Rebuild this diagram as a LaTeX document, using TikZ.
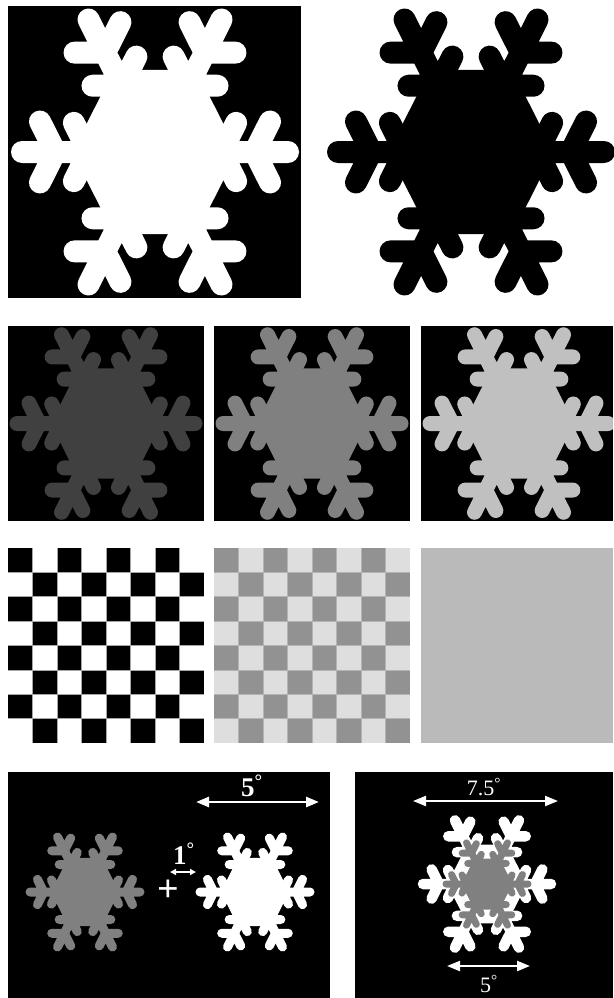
\documentclass[tikz,border=0pt]{standalone}
\usepackage{fontspec}
\setmainfont{Liberation Serif}
\usetikzlibrary{arrows.meta}
\definecolor{flakedark}{HTML}{404040}
\definecolor{flakemid}{HTML}{808080}
\definecolor{flakelight}{HTML}{C0C0C0}
\definecolor{chkdark}{HTML}{929292}
\definecolor{chklight}{HTML}{DEDEDE}
\definecolor{chkline}{HTML}{B4B4B4}
\definecolor{chkflat}{HTML}{BABABA}

\tikzset{
  pics/flake/.style n args={2}{code={
      \fill[#1] (0:0.62) -- (60:0.62) -- (120:0.62) -- (180:0.62) -- (240:0.62) -- (300:0.62) -- cycle;
      \foreach \a in {0,60,...,300}
        \draw[#1,line width=#2,line cap=round,line join=round]
          (0,0) -- (\a:1)
          (\a:0.75) -- ++(\a+60:0.23) (\a:0.75) -- ++(\a-60:0.23)
          (\a:0.5) -- ++(\a+60:0.22) (\a:0.5) -- ++(\a-60:0.22);
    }}
}

\begin{document}
\begin{tikzpicture}[x=1pt,y=-1pt,
    panel/.style={fill=black},
    big/.style={xscale=133,yscale=153},
    mid/.style={xscale=89,yscale=102.5},
    dim/.style={draw=white,line width=2.6pt,{Triangle[length=13pt,width=10pt]}-{Triangle[length=13pt,width=10pt]}},
    dimsmall/.style={draw=white,line width=1.6pt,{Triangle[length=6pt,width=6pt]}-{Triangle[length=6pt,width=6pt]}},
    lbl/.style={text=white,inner sep=0pt,font=\fontsize{27}{29}\selectfont\bfseries},
    lblthin/.style={text=white,inner sep=0pt,font=\fontsize{22}{24}\selectfont}
  ]
  \useasboundingbox (0,0) rectangle (613,998);
  \fill[white] (0,0) rectangle (613,998);

  \fill[panel] (8,6) rectangle (301,298);
  \pic[big] at (155,152) {flake={white}{22pt}};
  \pic[big] at (471,152) {flake={black}{22pt}};

  \fill[panel] (8,326) rectangle (204,521);
  \fill[panel] (214,326) rectangle (410,521);
  \fill[panel] (421,326) rectangle (613,521);
  \pic[mid] at (106,423.5) {flake={flakedark}{15pt}};
  \pic[mid] at (312,423.5) {flake={flakemid}{15pt}};
  \pic[mid] at (519,423.5) {flake={flakelight}{15pt}};
  \fill[white] (613,326) rectangle (620,521);

  \fill[chklight] (214,548) rectangle (410,743);
  \foreach \j in {0,...,7}
    \foreach \i in {0,2,4,6}{
      \pgfmathtruncatemacro\k{\i+mod(\j,2)}
      \fill[black] (8+24.5*\k,548+24.4*\j) rectangle ++(24.5,24.4);
      \fill[chkdark] (214+24.5*\k,548+24.4*\j) rectangle ++(24.5,24.4);
    }
  \foreach \k in {1,...,7}{
    \draw[gray!70,line width=0.8pt] (8+24.5*\k,548) -- ++(0,195) (8,548+24.4*\k) -- ++(196,0);
    \draw[chkline,line width=0.8pt] (214+24.5*\k,548) -- ++(0,195) (214,548+24.4*\k) -- ++(196,0);
  }
  \fill[chkflat] (421,548) rectangle (613,743);

  \fill[panel] (8,772) rectangle (330,998);
  \pic[xscale=55,yscale=63.5] at (85,892) {flake={flakemid}{9pt}};
  \pic[xscale=55,yscale=63.5] at (255,892) {flake={white}{9pt}};
  \node[lbl,font=\fontsize{38}{40}\selectfont\bfseries] (plus) at (168,891) {+};
  \coordinate (fiveL) at (196,802);
  \coordinate (fiveR) at (319,802);
  \draw[dim] (fiveL) -- (fiveR);
  \node[lbl] (five) at (252,786) {5\textsuperscript{°}};
  \coordinate (oneL) at (170,872);
  \coordinate (oneR) at (196,872);
  \draw[dimsmall] (oneL) -- (oneR);
  \node[lbl] (one) at (184,854) {1\textsuperscript{°}};

  \fill[panel] (355,772) rectangle (613,998);
  \pic[xscale=64,yscale=73.5] at (487,884) {flake={white}{10.5pt}};
  \pic[xscale=41,yscale=47.5] at (487,884) {flake={flakemid}{7pt}};
  \coordinate (wideL) at (413,801);
  \coordinate (wideR) at (558,801);
  \draw[dim,line width=2.2pt] (wideL) -- (wideR);
  \node[lblthin] (wide) at (484,787) {7.5\textsuperscript{°}};
  \coordinate (narrowL) at (447,966);
  \coordinate (narrowR) at (530,966);
  \draw[dim,line width=2.2pt] (narrowL) -- (narrowR);
  \node[lblthin] (narrow) at (489,984) {5\textsuperscript{°}};
\end{tikzpicture}
\end{document}
